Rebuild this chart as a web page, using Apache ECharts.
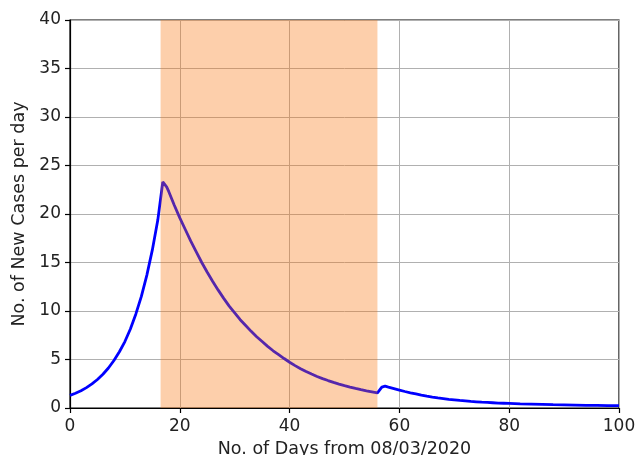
<!DOCTYPE html>
<html>
<head>
<meta charset="utf-8">
<script src="https://cdn.jsdelivr.net/npm/echarts@6/dist/echarts.min.js"></script>
<style>
html,body{margin:0;padding:0;background:#fff;}
#chart{width:644px;height:455px;}
</style>
</head>
<body>
<div id="chart"></div>
<script>
const days = [0,1,2,3,4,5,6,7,8,9,10,11,12,13,14,15,16,16.9,17.6,18,19,20,21,22,23,24,25,26,27,28,29,30,31,32,33,34,35,36,37,38,39,40,41,42,43,44,45,46,47,48,49,50,51,52,53,54,55,56,56.8,57.4,58,59,60,61,62,63,64,65,66,67,68,69,70,71,72,73,74,75,76,77,78,79,80,82,84,86,88,90,92,94,96,98,100];
const cases = [1.3,1.52,1.78,2.1,2.48,2.94,3.48,4.12,4.9,5.8,6.85,8.15,9.7,11.5,13.7,16.3,19.4,23.3,22.8,22.3,20.9,19.6,18.4,17.2,16.1,15.0,14.0,13.05,12.15,11.3,10.5,9.8,9.1,8.5,7.9,7.35,6.85,6.35,5.9,5.5,5.1,4.72,4.37,4.05,3.76,3.5,3.25,3.03,2.83,2.64,2.47,2.31,2.16,2.02,1.89,1.77,1.66,1.55,2.15,2.25,2.15,2.0,1.85,1.7,1.57,1.45,1.33,1.22,1.12,1.04,0.97,0.9,0.84,0.78,0.73,0.68,0.64,0.6,0.57,0.54,0.51,0.49,0.47,0.43,0.4,0.37,0.34,0.32,0.3,0.28,0.27,0.25,0.24];
const spanStart = 16.5;
const spanEnd = 56;
const xTicks = [0,20,40,60,80,100];
const yTicks = [0,5,10,15,20,25,30,35,40];

const chart = echarts.init(document.getElementById('chart'), null, {renderer:'canvas'});
const font = 'DejaVu Sans';
chart.setOption({
  animation:false,
  backgroundColor:'#fff',
  grid:{left:70,right:25,top:20,bottom:47,containLabel:false,outerBoundsMode:'none',show:true,borderColor:'#000',borderWidth:1.2,backgroundColor:'transparent'},
  xAxis:{
    type:'value',min:xTicks[0],max:xTicks[xTicks.length-1],interval:20,
    name:'No. of Days from 08/03/2020',nameLocation:'middle',nameGap:32,
    nameTextStyle:{fontFamily:font,fontSize:17.5,color:'#222'},
    axisLine:{show:true,lineStyle:{color:'#000',width:1.2}},
    axisTick:{show:true,length:5,lineStyle:{color:'#000',width:1.2}},
    axisLabel:{fontFamily:font,fontSize:17,color:'#222',margin:10},
    splitLine:{show:true,lineStyle:{color:'#b0b0b0',width:1}}
  },
  yAxis:{
    type:'value',min:yTicks[0],max:yTicks[yTicks.length-1],interval:5,
    name:'No. of New Cases per day',nameLocation:'middle',nameGap:33,
    nameTextStyle:{fontFamily:font,fontSize:17.5,color:'#222'},
    axisLine:{show:true,lineStyle:{color:'#000',width:1.2}},
    axisTick:{show:true,length:5,lineStyle:{color:'#000',width:1.2}},
    axisLabel:{fontFamily:font,fontSize:17,color:'#222',margin:9},
    splitLine:{show:true,lineStyle:{color:'#b0b0b0',width:1}}
  },
  series:[
    {
      type:'line',
      data:days.map((d,i)=>[d,cases[i]]),
      showSymbol:false,
      smooth:false,
      lineStyle:{color:'#0000ff',width:2.8},
      z:2
    },
    {
      type:'line',
      data:[],
      z:5,
      markArea:{
        silent:true,
        z:10,
        itemStyle:{color:'rgba(250,114,8,0.34)'},
        data:[[{xAxis:spanStart},{xAxis:spanEnd}]]
      }
    }
  ]
});
</script>
</body>
</html>
